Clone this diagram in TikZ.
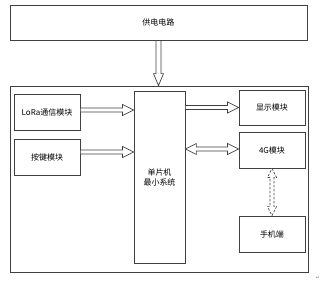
\documentclass[tikz,border=0pt]{standalone}
\usepackage{fontspec}
\setmainfont{Noto Sans CJK SC}
\newfontfamily\symfont{DejaVu Sans}
\usetikzlibrary{calc}
\tikzset{
  box/.style={draw=black!75, line width=0.8pt, fill=white, inner sep=0pt, font=\fontsize{8}{10}\selectfont, align=center},
  hollow/.style={draw=black!75, line width=0.7pt, fill=white, line join=miter},
}
% horizontal hollow arrow, head at end (#2), drawn from #1 to #2 (same y)
\newcommand{\harrowR}[2]{%
  \draw[hollow] let \p1=(#1), \p2=(#2) in
    (\x1,\y1+2pt) -- (\x2-11pt,\y1+2pt) -- (\x2-11pt,\y1+5.5pt) -- (\x2,\y1)
    -- (\x2-11pt,\y1-5.5pt) -- (\x2-11pt,\y1-2pt) -- (\x1,\y1-2pt) -- cycle;}
\newcommand{\harrowLR}[2]{%
  \draw[hollow] let \p1=(#1), \p2=(#2) in
    (\x1,\y1) -- (\x1+11pt,\y1+5.5pt) -- (\x1+11pt,\y1+2pt) -- (\x2-11pt,\y1+2pt) -- (\x2-11pt,\y1+5.5pt) -- (\x2,\y1)
    -- (\x2-11pt,\y1-5.5pt) -- (\x2-11pt,\y1-2pt) -- (\x1+11pt,\y1-2pt) -- (\x1+11pt,\y1-5.5pt) -- cycle;}
\begin{document}
\begin{tikzpicture}[x=1pt,y=-1pt]
\useasboundingbox (0,0) rectangle (325,282);
\node[box, minimum width=297pt, minimum height=35pt] (power) at (158.5,22.5) {供电电路};
\node[box, minimum width=298pt, minimum height=186pt] (outer) at (159,179) {};
\node[box, minimum width=66pt, minimum height=36pt] (lora) at (47,112) {LoRa通信模块};
\node[box, minimum width=66pt, minimum height=36pt] (key) at (47,157) {按键模块};
\node[box, minimum width=51pt, minimum height=172pt] (mcu) at (159.5,177) {单片机\\最小系统};
\node[box, minimum width=66pt, minimum height=35pt] (disp) at (272,107.5) {显示模块};
\node[box, minimum width=66pt, minimum height=36pt] (g4) at (272,150) {4G模块};
\node[box, minimum width=66pt, minimum height=36pt] (phone) at (272,234) {手机端};
% power -> outer (vertical)
\draw[hollow] let \p1=(power.south), \p2=(outer.north) in
  (\x1-2.5pt,\y1) -- (\x1-2.5pt,\y2+12pt) -- (\x1-5pt,\y2+12pt) -- (\x1,\y2)
  -- (\x1+5pt,\y2+12pt) -- (\x1+2.5pt,\y2+12pt) -- (\x1+2.5pt,\y1) -- cycle;
\harrowR{$(lora.east)+(0,-2)$}{$(mcu.west|-lora.east)+(0,-2)$}
\harrowR{$(key.east)+(0,-5)$}{$(mcu.west|-key.east)+(0,-5)$}
\harrowR{$(mcu.east|-disp.west)$}{$(disp.west)$}
\harrowLR{$(mcu.east|-g4.west)+(0,-1)$}{$(g4.west)+(0,-1)$}
% 4G <-> phone dashed vertical double arrow
\draw[hollow, dashed, dash pattern=on 2.5pt off 1.5pt] let \p1=(g4.south), \p2=(phone.north) in
  (\x1,\y1) -- (\x1+4.5pt,\y1-9pt) -- (\x1+2pt,\y1-9pt) -- (\x1+2pt,\y2+9pt) -- (\x1+4.5pt,\y2+9pt) -- (\x1,\y2)
  -- (\x1-4.5pt,\y2+9pt) -- (\x1-2pt,\y2+9pt) -- (\x1-2pt,\y1-9pt) -- (\x1-4.5pt,\y1-9pt) -- cycle;
\node[font=\symfont\fontsize{5}{6}\selectfont, text=black!50, inner sep=0pt] (mark) at (318,278) {↵};
\end{tikzpicture}
\end{document}
